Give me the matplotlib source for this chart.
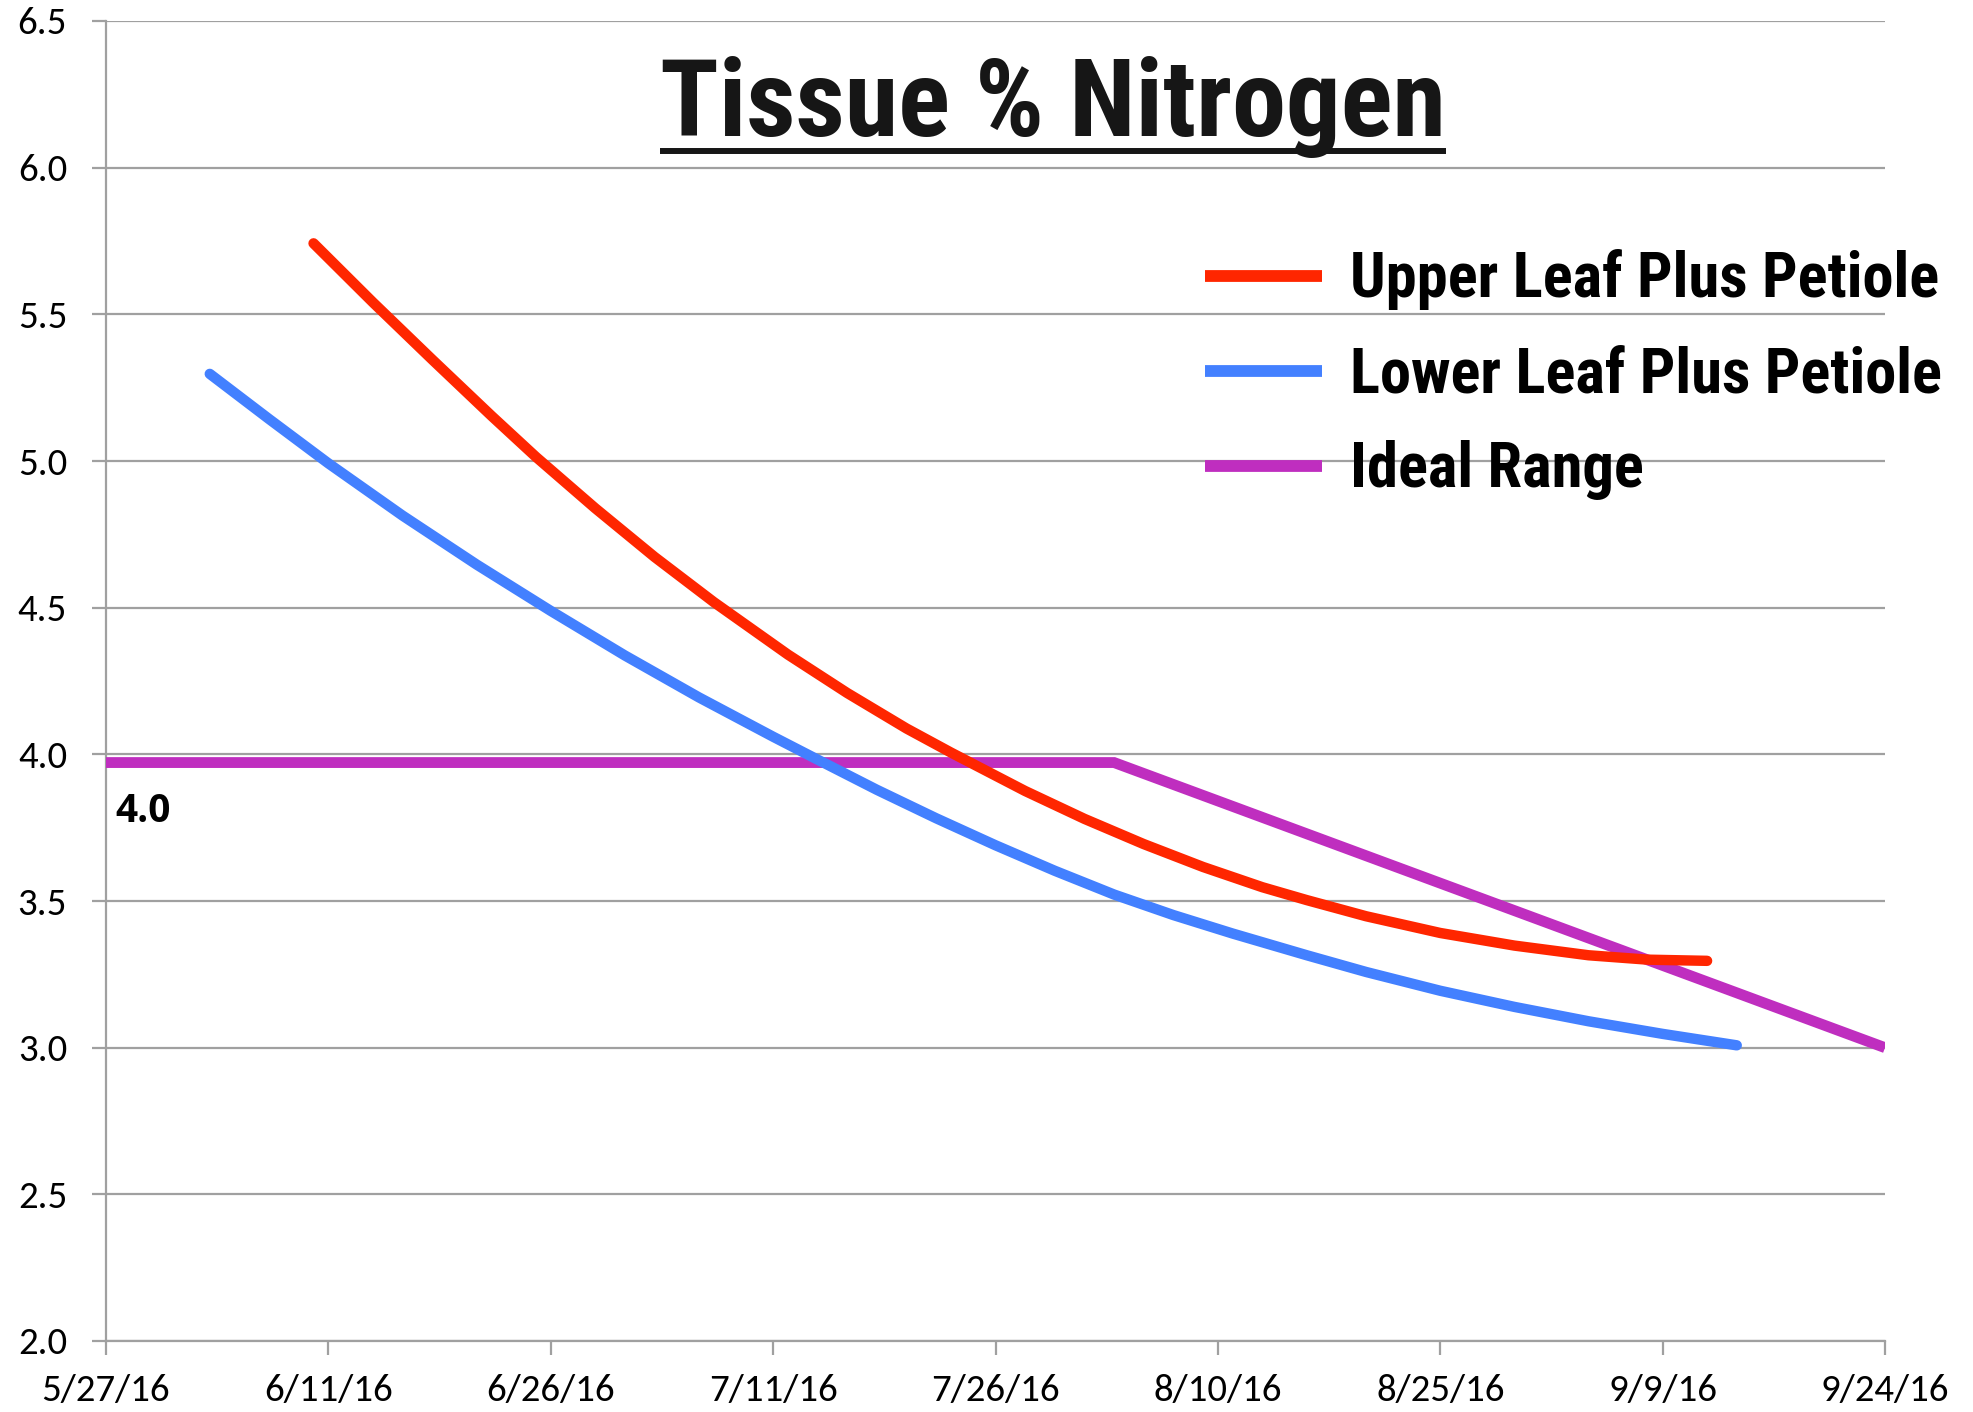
import matplotlib
matplotlib.use('Agg')
import matplotlib.pyplot as plt
import pandas as pd
from matplotlib.lines import Line2D

# ---- data ----
upper_dates = ['6/10/16', '6/14/16', '6/18/16', '6/22/16', '6/25/16', '6/29/16', '7/3/16',
               '7/7/16', '7/12/16', '7/16/16', '7/20/16', '7/23/16', '7/28/16', '8/1/16',
               '8/5/16', '8/9/16', '8/13/16', '8/16/16', '8/20/16', '8/25/16', '8/30/16',
               '9/4/16', '9/8/16', '9/12/16']
upper_vals = [5.742, 5.541, 5.346, 5.154, 5.014, 4.839, 4.673,
              4.519, 4.340, 4.209, 4.088, 4.006, 3.875, 3.780,
              3.694, 3.616, 3.547, 3.503, 3.448, 3.391, 3.348,
              3.315, 3.300, 3.296]

lower_dates = ['6/3/16', '6/7/16', '6/11/16', '6/16/16', '6/21/16', '6/26/16', '7/1/16',
               '7/6/16', '7/11/16', '7/14/16', '7/18/16', '7/22/16', '7/26/16', '7/30/16',
               '8/3/16', '8/7/16', '8/11/16', '8/16/16', '8/20/16', '8/25/16', '8/30/16',
               '9/4/16', '9/9/16', '9/14/16']
lower_vals = [5.297, 5.143, 4.992, 4.814, 4.647, 4.489, 4.337,
              4.194, 4.060, 3.982, 3.879, 3.782, 3.690, 3.603,
              3.522, 3.452, 3.389, 3.315, 3.258, 3.194, 3.139,
              3.090, 3.047, 3.008]

ideal_dates = ['5/27/16', '8/3/16', '9/24/16']
ideal_vals = [3.972, 3.972, 3.0]

x_tick_labels = ['5/27/16', '6/11/16', '6/26/16', '7/11/16', '7/26/16',
                 '8/10/16', '8/25/16', '9/9/16', '9/24/16']
y_ticks = [2.0, 2.5, 3.0, 3.5, 4.0, 4.5, 5.0, 5.5, 6.0, 6.5]

series_names = ['Upper Leaf Plus Petiole', 'Lower Leaf Plus Petiole', 'Ideal Range']
title_text = 'Tissue % Nitrogen'
ideal_label = '4.0'


def to_dt(lst):
    return pd.to_datetime(lst, format='%m/%d/%y')


W, H = 1974, 1412
fig = plt.figure(figsize=(W / 100, H / 100), dpi=100)
ax = fig.add_axes([106 / W, 1 - 1341 / H, 1779 / W, 1320 / H])

RED = '#FF2600'
BLUE = '#4380FF'
PURPLE = '#BF2EBF'
GRID = '#a0a0a0'
cond_font = ['Roboto Condensed', 'Archivo Narrow', 'PT Sans Narrow', 'DejaVu Sans']
tick_font = ['Carlito', 'Open Sans', 'DejaVu Sans']
note_font = ['Open Sans', 'DejaVu Sans']

ax.plot(to_dt(ideal_dates), ideal_vals, color=PURPLE, lw=7.8,
        solid_capstyle='butt', solid_joinstyle='miter', label=series_names[2], zorder=3)
ax.plot(to_dt(lower_dates), lower_vals, color=BLUE, lw=7.5,
        solid_capstyle='round', solid_joinstyle='round', label=series_names[1], zorder=4)
ax.plot(to_dt(upper_dates), upper_vals, color=RED, lw=7.5,
        solid_capstyle='round', solid_joinstyle='round', label=series_names[0], zorder=5)

ax.set_xlim(to_dt(['5/27/16'])[0], to_dt(['9/24/16'])[0])
ax.set_ylim(y_ticks[0], y_ticks[-1])
ax.set_yticks(y_ticks)
ax.set_yticklabels([f'{v:.1f}' for v in y_ticks], fontfamily=tick_font)
ax.set_xticks(to_dt(x_tick_labels))
ax.set_xticklabels(x_tick_labels, fontfamily=tick_font)

ax.grid(axis='y', color=GRID, lw=1.6, zorder=1)
ax.grid(axis='x', visible=False)
ax.set_axisbelow(True)
for s in ['top', 'right']:
    ax.spines[s].set_visible(False)
for s in ['left', 'bottom']:
    ax.spines[s].set_color(GRID)
    ax.spines[s].set_linewidth(1.6)
ax.tick_params(axis='both', direction='out', length=10, width=1.6, color=GRID,
               labelsize=28, labelcolor='black')
ax.tick_params(axis='y', pad=18)
ax.tick_params(axis='x', pad=14)

# "4.0" annotation near the start of the ideal range
ax.annotate(ideal_label, xy=(to_dt(ideal_dates)[0], ideal_vals[0]), xytext=(7, -43),
            textcoords='offset points', ha='left', va='baseline',
            fontsize=28, fontweight='bold', fontfamily=note_font, color='black')

# Legend
handles, labels = ax.get_legend_handles_labels()
order = [2, 1, 0]
leg = ax.legend([handles[i] for i in order], [labels[i] for i in order],
                loc='center left', bbox_to_anchor=(1205 / W, 1 - 375 / H),
                bbox_transform=fig.transFigure, frameon=False,
                borderpad=0, borderaxespad=0, handlelength=1.87, handletextpad=0.45,
                labelspacing=0.56,
                prop={'family': cond_font, 'weight': 'bold', 'size': 45})
for lh in leg.get_lines():
    lh.set_linewidth(8.5)
    lh.set_solid_capstyle('butt')

# Title with underline
t = fig.text(1053 / W, 1 - 136 / H, title_text, ha='center', va='baseline',
             fontsize=78, fontweight='bold', fontfamily=cond_font, color='#161616')
fig.canvas.draw()
bb = t.get_window_extent()
uy = 1 - 151 / H
fig.add_artist(Line2D([bb.x0 / W, bb.x1 / W], [uy, uy], transform=fig.transFigure,
                      color='#161616', lw=4.3, solid_capstyle='butt'))

fig.savefig('out.png', dpi=100)
